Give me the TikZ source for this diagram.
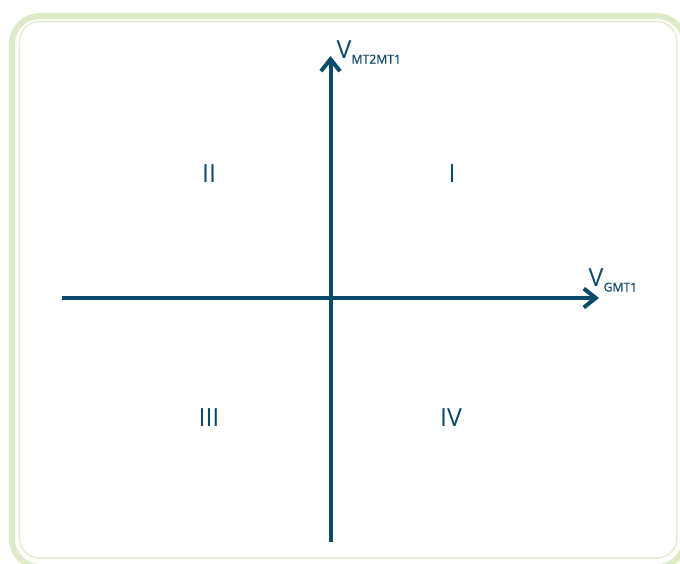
\documentclass[tikz,border=0pt]{standalone}
\usepackage{fontspec}
\setmainfont{Open Sans}
\usepackage{tikz}
\usetikzlibrary{arrows.meta, positioning, calc}
\definecolor{AxisBlue}{HTML}{0B4A68}
\definecolor{FrameGreen}{HTML}{DDEBC9}
\definecolor{FrameLine}{HTML}{E3EED5}

\begin{document}
\begin{tikzpicture}[x=1pt, y=-1pt, >={Straight Barb[length=12pt, width=19pt]}]
    \tikzstyle{axis} = [draw=AxisBlue, line width=4pt, ->]
    \tikzstyle{quadrant} = [text=AxisBlue, font=\fontsize{25}{25}\selectfont, inner sep=0pt]
    \tikzstyle{axislabel} = [text=AxisBlue, font=\fontsize{25}{25}\selectfont, inner sep=0pt, anchor=base west]
    \newcommand{\subtext}[1]{\raisebox{-5.5pt}{\fontsize{12.2}{12.2}\selectfont\addfontfeature{FakeBold=0.6}#1}}

    \useasboundingbox (0,0) rectangle (680,563);
    \clip (0,0) rectangle (680,563);

    % frame
    \draw [FrameGreen, line width=6pt, rounded corners=28pt] (12,16) rectangle (685,567);
    \draw [FrameLine, line width=1.6pt, rounded corners=20pt] (19.5,21.5) rectangle (677,558);

    % axes
    \coordinate (xstart) at (62,298);
    \coordinate (xend) at (599,298);
    \coordinate (ystart) at (330.5,542);
    \coordinate (yend) at (330.5,56);
    \path [axis] (xstart) -- (xend);
    \path [axis] (ystart) -- (yend);

    % labels
    \node [axislabel] (vgmt) at (588.5,286) {V\subtext{GMT1}};
    \node [axislabel] (vmt) at (336.5,58) {V\subtext{MT2MT1}};

    % quadrants
    \node [quadrant] (q1) at (452,174) {I};
    \node [quadrant] (q2) at (209,174) {II};
    \node [quadrant] (q3) at (209,418) {III};
    \node [quadrant] (q4) at (451,418) {IV};
\end{tikzpicture}
\end{document}
